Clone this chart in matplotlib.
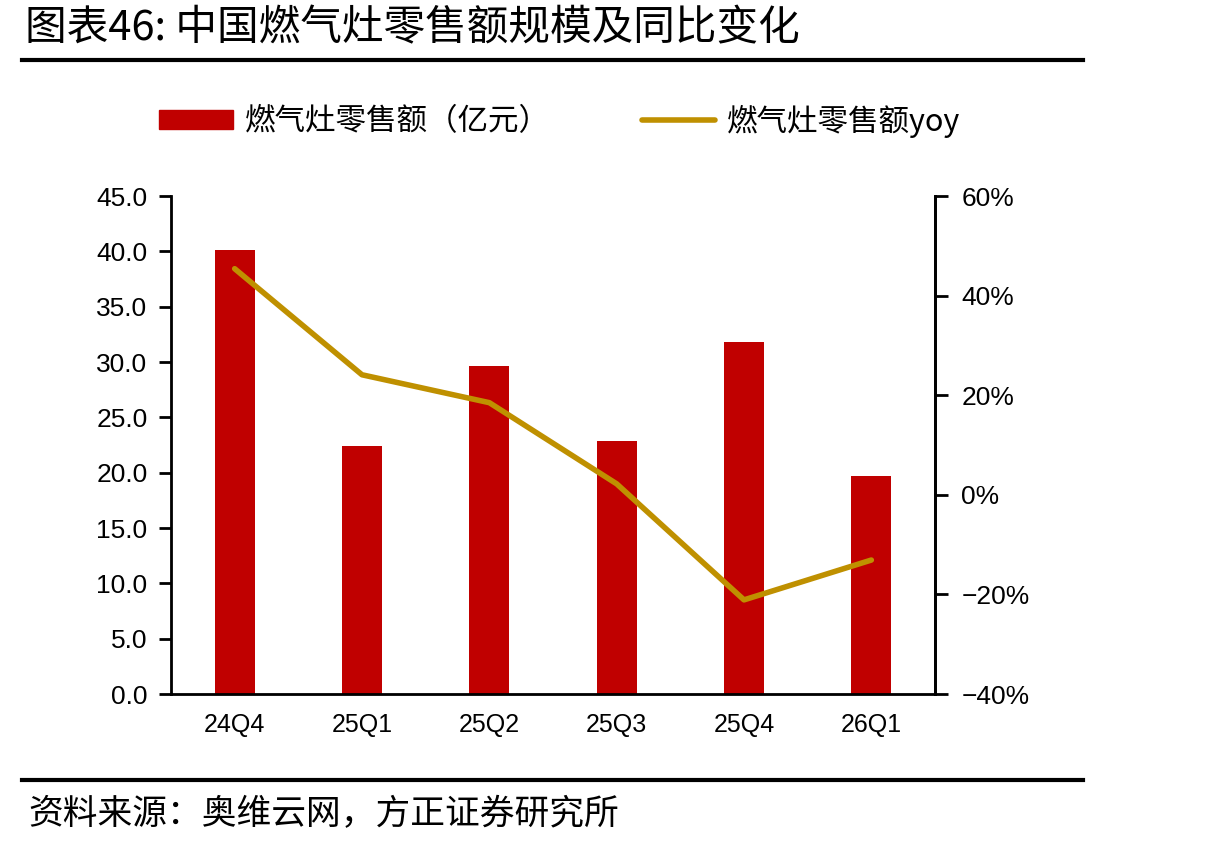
import numpy as np
import matplotlib.pyplot as plt
from matplotlib.lines import Line2D

plt.rcParams['font.family'] = ['Noto Sans CJK SC', 'DejaVu Sans']

quarters = ['24Q4', '25Q1', '25Q2', '25Q3', '25Q4', '26Q1']
sales = [40.1, 22.4, 29.6, 22.9, 31.8, 19.7]
yoy = [45.4, 24.1, 18.5, 2.2, -21.1, -13.1]

bar_color = '#C00000'
line_color = '#BF9000'

fig = plt.figure(figsize=(12.21, 8.5), dpi=100)
ax = fig.add_axes([171 / 1221, 1 - 694 / 850, (935 - 171) / 1221, (694 - 196) / 850])
x = np.arange(len(quarters))
ax.bar(x, sales, width=0.315, color=bar_color, zorder=2)
ax.set_xlim(-0.5, 5.5)
ax.set_ylim(0, 45)
ax.set_yticks(np.arange(0, 46, 5))
ax.set_yticklabels(['%.1f' % v for v in np.arange(0, 46, 5)], family='Liberation Sans', fontsize=19)
ax.set_xticks(x)
ax.set_xticklabels(quarters, family='Liberation Sans', fontsize=18)
ax.tick_params(axis='x', length=0, pad=14)
ax.tick_params(axis='y', direction='out', length=9, width=2, pad=8)
ax.spines['top'].set_visible(False)
for s in ['left', 'bottom', 'right']:
    ax.spines[s].set_linewidth(2)

ax2 = ax.twinx()
ax2.plot(x, yoy, color=line_color, lw=4, solid_capstyle='round', zorder=3)
ax2.set_ylim(-40, 60)
ax2.set_yticks(np.arange(-40, 61, 20))
ax2.set_yticklabels(['%d%%' % v if v >= 0 else '\u2212%d%%' % -v for v in np.arange(-40, 61, 20)],
                    family='Liberation Sans', fontsize=19)
ax2.tick_params(axis='y', direction='out', length=9, width=2, pad=10)
ax2.spines['top'].set_visible(False)
ax2.spines['right'].set_linewidth(2)

# legend
handles = [plt.Rectangle((0, 0), 1, 1, color=bar_color),
           Line2D([0], [0], color=line_color, lw=4, solid_capstyle='round')]
fig.legend(handles, ['燃气灶零售额（亿元）', '燃气灶零售额yoy'], loc='center',
           bbox_to_anchor=(560 / 1221, 1 - 121 / 850), ncol=2, frameon=False,
           fontsize=22, handlelength=2.4, handleheight=0.6, columnspacing=3.0, handletextpad=0.4)

# title and rules
fig.text(25 / 1221, 1 - 29 / 850, '图表46: 中国燃气灶零售额规模及同比变化', fontsize=30,
         va='center', ha='left')
fig.add_artist(Line2D([22 / 1221, 1083 / 1221], [1 - 60 / 850] * 2, color='black', lw=3))
fig.add_artist(Line2D([22 / 1221, 1083 / 1221], [1 - 780 / 850] * 2, color='black', lw=3))
fig.text(28 / 1221, 1 - 815 / 850, '资料来源：奥维云网，方正证券研究所', fontsize=25,
         va='center', ha='left', style='italic')

fig.savefig('out.png', dpi=100)
